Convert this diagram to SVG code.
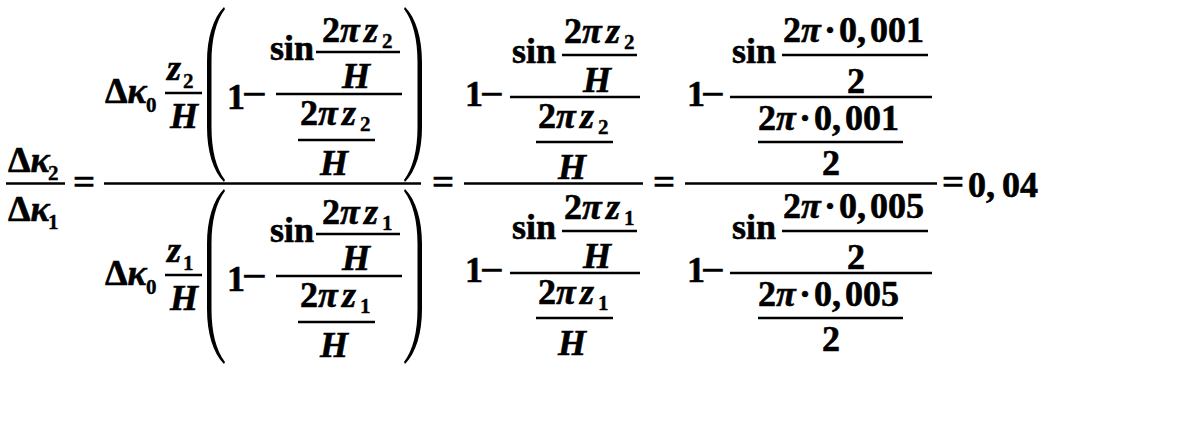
<svg xmlns="http://www.w3.org/2000/svg" width="1202" height="423" viewBox="0 0 1202 423" font-family="Liberation Serif, serif">
<style>
text{font-family:'Liberation Serif','DejaVu Serif',serif;font-weight:700;font-size:36px;fill:#000;stroke:#000;stroke-width:0.6}
.i{font-style:italic}
.s{font-size:21px;stroke-width:0.4}
.m{text-anchor:middle}
.ln{stroke:#000;stroke-width:2.5;fill:none}
.p{fill:#000}
</style>
<defs>
<g id="col1top">
<text x="105" y="103">Δ<tspan class="i">κ</tspan></text>
<text class="s" x="146" y="112">0</text>
<text class="i" x="167" y="80">z</text>
<line class="ln" x1="165" y1="93" x2="202" y2="93"/>
<text class="i m" x="184" y="128">H</text>
<path class="p" d="M224 7 C213 18 207 38 207 62 L207 127 C207 151 213 171 224 182 L225 180 C216 168 211.5 150 211.5 127 L211.5 62 C211.5 39 216 21 225 9 Z"/>
<path class="p" d="M405 7 C416 18 422 38 422 62 L422 127 C422 151 416 171 405 182 L404 180 C413 168 417.5 150 417.5 127 L417.5 62 C417.5 39 413 21 404 9 Z"/>
<text x="227" y="109">1</text>
<text transform="translate(242,106) scale(1.2,1)">−</text>
<line class="ln" x1="276" y1="94" x2="402" y2="94"/>
<text x="270" y="60">sin</text>
<text x="322" y="42">2<tspan class="i" x="340">π</tspan><tspan class="i" x="364">z</tspan></text>
<line class="ln" x1="316" y1="52" x2="400" y2="52"/>
<text class="i m" x="356" y="88">H</text>
<text x="300" y="125">2<tspan class="i" x="318">π</tspan><tspan class="i" x="342">z</tspan></text>
<line class="ln" x1="298" y1="140" x2="375" y2="140"/>
<text class="i m" x="334" y="175">H</text>
</g>
<g id="col2top">
<text x="465" y="106">1</text>
<text transform="translate(480,106) scale(1.15,1)">−</text>
<line class="ln" x1="510" y1="97" x2="640" y2="97"/>
<text x="512" y="63">sin</text>
<text x="564" y="43">2<tspan class="i" x="582">π</tspan><tspan class="i" x="606">z</tspan></text>
<line class="ln" x1="562" y1="55" x2="637" y2="55"/>
<text class="i m" x="597" y="92">H</text>
<text x="538" y="128">2<tspan class="i" x="556">π</tspan><tspan class="i" x="580">z</tspan></text>
<line class="ln" x1="536" y1="142" x2="613" y2="142"/>
<text class="i m" x="572" y="179">H</text>
</g>
<g id="col3top">
<text x="687" y="106">1</text>
<text transform="translate(701,106) scale(1.15,1)">−</text>
<line class="ln" x1="730" y1="97" x2="932" y2="97"/>
<text x="732" y="63">sin</text>
<line class="ln" x1="782" y1="55" x2="928" y2="55"/>
<text class="m" x="856" y="93">2</text>
<line class="ln" x1="758" y1="142" x2="903" y2="142"/>
<text class="m" x="831" y="175">2</text>
</g>
</defs>

<g id="lhs">
<text x="8" y="172">Δ<tspan class="i">κ</tspan></text>
<text class="s" x="48" y="180">2</text>
<text x="8" y="221">Δ<tspan class="i">κ</tspan></text>
<text class="s" x="48" y="229">1</text>
</g>

<g id="num1">
<use href="#col1top"/>
<text class="s" x="183" y="88">2</text>
<text class="s" x="382" y="48">2</text>
<text class="s" x="360" y="131">2</text>
</g>
<g id="den1">
<use href="#col1top" transform="translate(0,182)"/>
<text class="s" x="183" y="270">1</text>
<text class="s" x="382" y="230">1</text>
<text class="s" x="360" y="313">1</text>
</g>

<g id="num2">
<use href="#col2top"/>
<text class="s" x="624" y="49">2</text>
<text class="s" x="598" y="134">2</text>
</g>
<g id="den2">
<use href="#col2top" transform="translate(0,176)"/>
<text class="s" x="624" y="225">1</text>
<text class="s" x="598" y="310">1</text>
</g>

<g id="num3">
<use href="#col3top"/>
<text x="783" y="42">2<tspan class="i" x="801">π</tspan><tspan x="824">·</tspan><tspan x="839">0,</tspan><tspan x="870">001</tspan></text>
<text x="758" y="130">2<tspan class="i" x="776">π</tspan><tspan x="799">·</tspan><tspan x="814">0,</tspan><tspan x="845">001</tspan></text>
</g>
<g id="den3">
<use href="#col3top" transform="translate(0,176)"/>
<text x="783" y="218">2<tspan class="i" x="801">π</tspan><tspan x="824">·</tspan><tspan x="839">0,</tspan><tspan x="870">005</tspan></text>
<text x="758" y="306">2<tspan class="i" x="776">π</tspan><tspan x="799">·</tspan><tspan x="814">0,</tspan><tspan x="845">005</tspan></text>
</g>

<g id="connectors">
<line class="ln" x1="6" y1="183.5" x2="65" y2="183.5"/>
<line class="ln" x1="104" y1="183.5" x2="421" y2="183.5"/>
<line class="ln" x1="464" y1="183.5" x2="643" y2="183.5"/>
<line class="ln" x1="685" y1="183.5" x2="937" y2="183.5"/>
</g>

<g id="equals">
<text transform="translate(73,194) scale(1.08,1)">=</text>
<text transform="translate(432,194) scale(1.08,1)">=</text>
<text transform="translate(653,194) scale(1.08,1)">=</text>
<text transform="translate(942,194) scale(1.08,1)">=</text>
<text x="968" y="197">0,<tspan x="1002">04</tspan></text>
</g>
</svg>
